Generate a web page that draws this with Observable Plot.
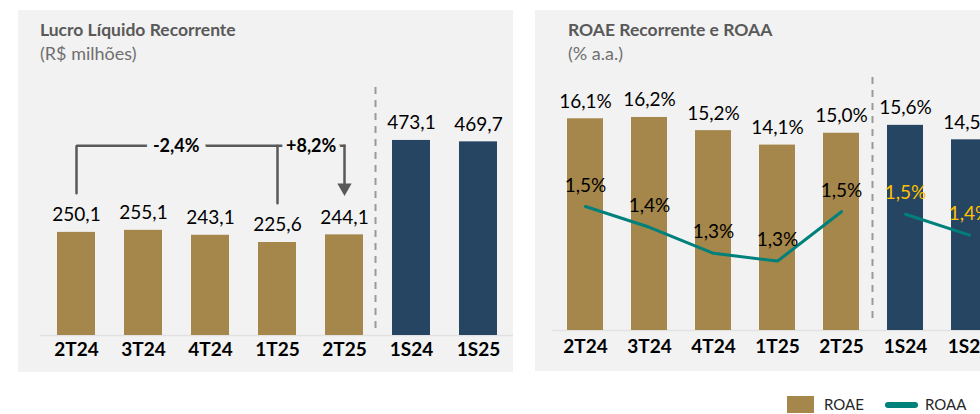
<!DOCTYPE html>
<html><head><meta charset="utf-8">
<script src="https://cdn.jsdelivr.net/npm/d3@7"></script>
<script src="https://cdn.jsdelivr.net/npm/@observablehq/plot@0.6"></script>
<style>
html,body{margin:0;padding:0;background:#fff;overflow:hidden;}
#wrap{position:relative;width:980px;height:414px;overflow:hidden;font-family:Lato,sans-serif;}
.panel{position:absolute;background:#f2f2f2;}
.title{position:absolute;font-weight:700;color:#595959;font-size:17.5px;line-height:1;white-space:nowrap;}
.sub{position:absolute;color:#6f6f6f;font-size:18px;line-height:1;white-space:nowrap;}
.chart{position:absolute;top:0;}
.chart svg{max-width:none !important;}
.leg{position:absolute;font-size:15px;line-height:1;color:#262626;white-space:nowrap;}
</style></head>
<body><div id="wrap">
<div class="panel" style="left:18px;top:10px;width:495px;height:362px"></div>
<div class="panel" style="left:535px;top:10px;width:445px;height:361px"></div>
<div class="title" style="left:40px;top:21px">Lucro Líquido Recorrente</div>
<div class="sub" style="left:40px;top:44px">(R$ milhões)</div>
<div class="title" style="left:568px;top:21px">ROAE Recorrente e ROAA</div>
<div class="sub" style="left:568px;top:44px">(% a.a.)</div>
<div id="left" class="chart" style="left:0px;width:520px"></div>
<div id="right" class="chart" style="left:520px;width:500px"></div>
<div id="right2" class="chart" style="left:520px;width:500px"></div>
<div style="position:absolute;left:787px;top:396px;width:27px;height:17px;background:#A5874B"></div>
<div class="leg" style="left:824px;top:397px">ROAE</div>
<div style="position:absolute;left:885px;top:402px;width:33px;height:6px;border-radius:3px;background:#00807A"></div>
<div class="leg" style="left:925px;top:397px">ROAA</div>
</div>
<script>
// ---- data ----
const periods = ["2T24","3T24","4T24","1T25","2T25","1S24","1S25"];
const periodType = ["T","T","T","T","T","S","S"];
const lucro = [250.1,255.1,243.1,225.6,244.1,473.1,469.7];
const roae = [16.1,16.2,15.2,14.1,15.0,15.6,14.5];
const roaa = [1.52,1.44,1.34,1.31,1.50,1.49,1.41];
const varFrom = ["2T24","1T25"];
const varTo = ["1T25","2T25"];
const varLabels = ["-2,4%","+8,2%"];

const gold = "#A5874B", navy = "#264563", teal = "#00807A", gray = "#595959";
const fmt = v => d3.format(".1f")(v).replace(".", ",");

const left = periods.map((q,i)=>({q, v:lucro[i], type:periodType[i]}));
const right = periods.map((q,i)=>({q, v:roae[i], a:roaa[i], type:periodType[i]}));
const lv = Object.fromEntries(left.map(d=>[d.q,d.v]));

const bracketLevel = 460, gapAbove = 95;
const bracket1 = [
  {q:varFrom[0], y:lv[varFrom[0]]+gapAbove},
  {q:varFrom[0], y:bracketLevel},
  {q:varTo[0], y:bracketLevel},
  {q:varTo[0], y:lv[varTo[0]]+gapAbove}
];
const bracket2 = [
  {q:varFrom[1], y:bracketLevel},
  {q:varTo[1], y:bracketLevel}
];
const shaft = [
  {q:varTo[1], y:bracketLevel},
  {q:varTo[1], y:lv[varTo[1]]+gapAbove+20}
];
const arrowTip = [{q:varTo[1], y:lv[varTo[1]]+gapAbove}];

const baseStyle = {background:"transparent", overflow:"visible", maxWidth:"none", fontFamily:"Lato, sans-serif"};
const halfStepL = 33.67;

const leftPlot = Plot.plot({
  width:520, height:380, marginTop:100, marginBottom:45, marginLeft:40, marginRight:7,
  style: baseStyle,
  x:{domain:periods, paddingInner:0.435, paddingOuter:0.23, axis:null},
  y:{domain:[0,570], axis:null},
  color:{domain:["T","S"], range:[gold, navy]},
  marks:[
    Plot.ruleY([0], {stroke:"#e2e2e2", strokeWidth:1.5}),
    Plot.barY(left, {x:"q", y:"v", fill:"type"}),
    Plot.ruleX([varTo[1]], {dx:31, stroke:"#9a9a9a", strokeWidth:2, strokeDasharray:"7,6", insetTop:-13, insetBottom:2}),
    Plot.text(left, {x:"q", y:"v", text:d=>fmt(d.v), dy:-11, lineAnchor:"bottom", fontSize:19, fill:"#000"}),
    Plot.text(left, {x:"q", text:"q", frameAnchor:"bottom", dy:20, fontSize:19, fontWeight:"bold", fill:"#000"}),
    Plot.line(bracket1, {x:"q", y:"y", stroke:gray, strokeWidth:2.5, strokeLinejoin:"miter"}),
    Plot.line(bracket2, {x:"q", y:"y", stroke:gray, strokeWidth:2.5, strokeLinejoin:"miter"}),
    Plot.text([varLabels[0]], {x:()=> "3T24", y:()=>bracketLevel, text:d=>d, dx:halfStepL-1, fontSize:18, fontWeight:"bold", fill:"#000", stroke:"#f2f2f2", strokeWidth:14, paintOrder:"stroke"}),
    Plot.text([varLabels[1]], {x:()=> varFrom[1], y:()=>bracketLevel, text:d=>d, dx:halfStepL, fontSize:18, fontWeight:"bold", fill:"#000", stroke:"#f2f2f2", strokeWidth:9, paintOrder:"stroke"}),
    Plot.line(shaft, {x:"q", y:"y", stroke:gray, strokeWidth:2.5, strokeLinecap:"square"}),
    Plot.dot(arrowTip, {x:"q", y:"y", symbol:"triangle", r:5.3, rotate:180, fill:gray, dy:-8})
  ]
});
document.getElementById("left").append(leftPlot);

const rightX = {domain:periods, paddingInner:0.44, paddingOuter:0.218, axis:null};
const rightPlot = Plot.plot({
  width:500, height:380, marginTop:67, marginBottom:50, marginLeft:32, marginRight:18.2,
  style: baseStyle,
  x: rightX,
  y:{domain:[0,20], axis:null},
  color:{domain:["T","S"], range:[gold, navy]},
  marks:[
    Plot.ruleY([0], {stroke:"#e2e2e2", strokeWidth:1.5}),
    Plot.barY(right, {x:"q", y:"v", fill:"type"}),
    Plot.ruleX([varTo[1]], {dx:31, stroke:"#9a9a9a", strokeWidth:2, strokeDasharray:"7,6", insetTop:10, insetBottom:7}),
    Plot.text(right, {x:"q", y:"v", text:d=>fmt(d.v)+"%", dy:-11, lineAnchor:"bottom", fontSize:19, fill:"#000"}),
    Plot.text(right, {x:"q", text:"q", frameAnchor:"bottom", dy:22, fontSize:19, fontWeight:"bold", fill:"#000"})
  ]
});
document.getElementById("right").append(rightPlot);

const rightPlot2 = Plot.plot({
  width:500, height:380, marginTop:159.2, marginBottom:38.8, marginLeft:32, marginRight:18.2,
  style: baseStyle,
  x: rightX,
  y:{domain:[1.0,1.7], axis:null},
  color:{domain:["T","S"], range:["#000000","#FFC000"]},
  marks:[
    Plot.line(right, {x:"q", y:"a", z:"type", stroke:teal, strokeWidth:3}),
    Plot.text(right, {x:"q", y:"a", text:d=>fmt(d.a)+"%", dy:-15, lineAnchor:"bottom", fontSize:19, fill:"type"})
  ]
});
document.getElementById("right2").append(rightPlot2);
</script>
</body></html>
